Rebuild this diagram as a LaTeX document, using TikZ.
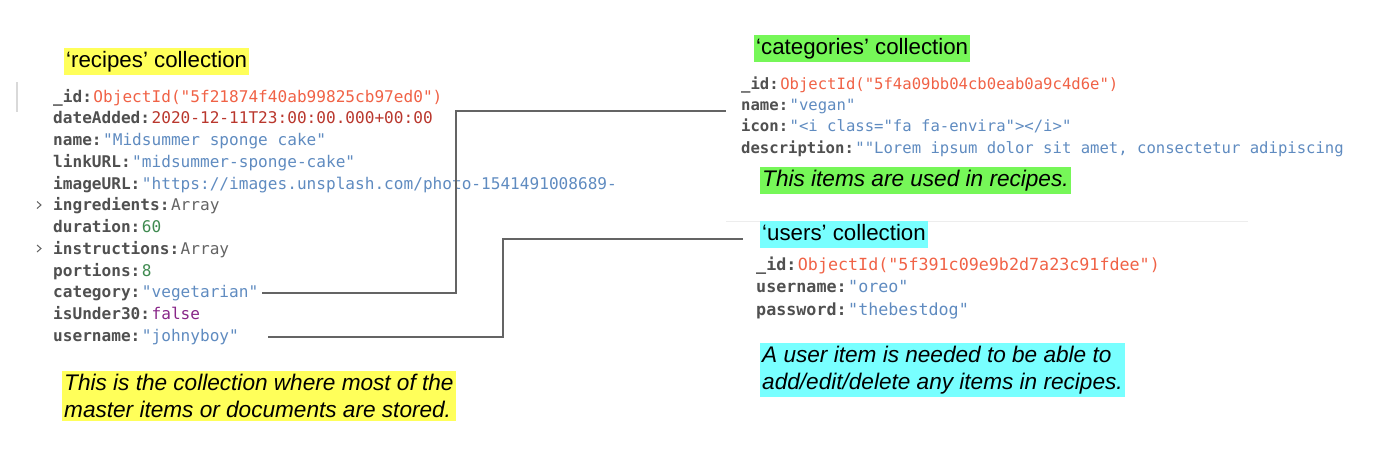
\documentclass[tikz,border=0pt]{standalone}
\usepackage{fontspec}
\setmainfont{Liberation Sans}
\newfontfamily\codefont{DejaVu Sans Mono}
\usetikzlibrary{positioning}

\definecolor{keygray}{RGB}{80,80,80}
\definecolor{oidred}{RGB}{240,98,70}
\definecolor{datered}{RGB}{185,55,45}
\definecolor{strblue}{RGB}{95,139,192}
\definecolor{numgreen}{RGB}{63,138,80}
\definecolor{boolpurple}{RGB}{136,38,136}
\definecolor{arrgray}{RGB}{100,100,100}
\definecolor{linkgray}{RGB}{100,100,100}
\definecolor{hlyellow}{RGB}{255,255,90}
\definecolor{hlgreen}{RGB}{118,247,88}
\definecolor{hlcyan}{RGB}{120,255,255}

\newcommand{\ky}[1]{{\bfseries\color{keygray}#1}\hspace{1.5pt}}
\newcommand{\oid}[1]{{\color{oidred}ObjectId("#1")}}
\newcommand{\str}[1]{{\color{strblue}"#1"}}

\tikzset{
  row/.style={anchor=base west, inner sep=0pt, font=\codefont\fontsize{#1}{19}\selectfont},
  row/.default=16.1,
  head/.style={anchor=west, inner xsep=2pt, inner ysep=2.5pt, text height=17pt, text depth=5pt,
    font=\fontsize{22.3}{26}\selectfont},
  note/.style={anchor=north west, align=left, inner xsep=2pt, inner ysep=3pt,
    font=\itshape\fontsize{22.6}{26.8}\selectfont},
  chev/.style={draw=arrgray, line width=1pt},
  link/.style={draw=linkgray, line width=1.8pt}
}

\begin{document}
\begin{tikzpicture}[x=1pt,y=-1pt]
  \useasboundingbox (0,0) rectangle (1400,450);

  % recipes
  \begin{scope}
  \node[head,fill=hlyellow] (rhead) at (64,61.5) {‘recipes’ collection};
  \draw[draw=black!15, line width=1.5pt] (17,82) -- (17,112);
  \node[row] (rid)   at (53,102)    {\ky{\_id:}\oid{5f21874f40ab99825cb97ed0}};
  \node[row] (rdate) at (53,123.75) {\ky{dateAdded:}{\color{datered}2020-12-11T23:00:00.000+00:00}};
  \node[row] (rname) at (53,145.5)  {\ky{name:}\str{Midsummer sponge cake}};
  \node[row] (rlink) at (53,167.25) {\ky{linkURL:}\str{midsummer-sponge-cake}};
  \node[row] (rimg)  at (53,189)    {\ky{imageURL:}{\color{strblue}"https://images.unsplash.com/photo-1541491008689-}};
  \node[row] (ring)  at (53,210.75) {\ky{ingredients:}{\color{arrgray}Array}};
  \node[row] (rdur)  at (53,232.5)  {\ky{duration:}{\color{numgreen}60}};
  \node[row] (rins)  at (53,254.25) {\ky{instructions:}{\color{arrgray}Array}};
  \node[row] (rpor)  at (53,276)    {\ky{portions:}{\color{numgreen}8}};
  \node[row] (rcat)  at (53,297.75) {\ky{category:}\str{vegetarian}};
  \node[row] (rund)  at (53,319.5)  {\ky{isUnder30:}{\color{boolpurple}false}};
  \node[row] (rusr)  at (53,341.25) {\ky{username:}\str{johnyboy}};
  \draw[chev] (37,201.5) -- (41,205) -- (37,208.5);
  \draw[chev] (37,245) -- (41,248.5) -- (37,252);
  \node[note,fill=hlyellow] (rnote) at (62,371)
    {This is the collection where most of the\\master items or documents are stored.};
  \end{scope}

  % categories
  \begin{scope}
  \node[head,fill=hlgreen] (chead) at (754,48.5) {‘categories’ collection};
  \node[row=15.6] (cid)   at (741,89)  {\ky{\_id:}\oid{5f4a09bb04cb0eab0a9c4d6e}};
  \node[row=15.6] (cname) at (741,110) {\ky{name:}\str{vegan}};
  \node[row=15.6] (cicon) at (741,131) {\ky{icon:}\str{<i class="fa fa-envira"></i>}};
  \node[row=15.6] (cdesc) at (741,153) {\ky{description:}{\color{strblue}""Lorem ipsum dolor sit amet, consectetur adipiscing}};
  \node[note,fill=hlgreen] (cnote) at (760,167) {This items are used in recipes.};
  \end{scope}

  \draw[draw=black!7, line width=1pt] (726,221) -- (1248,221);

  % users
  \begin{scope}
  \node[head,fill=hlcyan] (uhead) at (760,234.5) {‘users’ collection};
  \node[row=16.7] (uid)   at (756,270)   {\ky{\_id:}\oid{5f391c09e9b2d7a23c91fdee}};
  \node[row=16.7] (uname) at (756,292.5) {\ky{username:}\str{oreo}};
  \node[row=16.7] (upass) at (756,315)   {\ky{password:}\str{thebestdog}};
  \node[note,fill=hlcyan] (unote) at (760,343)
    {A user item is needed to be able to\\add/edit/delete any items in recipes.};
  \end{scope}

  % links
  \coordinate (catend) at (726,111);
  \coordinate (usrend) at (743,239);
  \draw[link] ([xshift=4pt]rcat.east) -- (456,0 |- rcat.east) |- (catend);
  \draw[link] ([xshift=29pt]rusr.east) -- (503,0 |- rusr.east) |- (usrend);

\end{tikzpicture}
\end{document}
